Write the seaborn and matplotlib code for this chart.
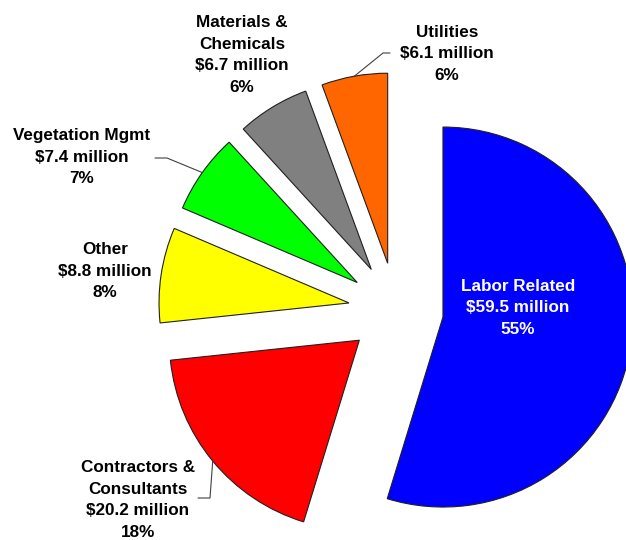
import numpy as np
import matplotlib
matplotlib.use("Agg")
import matplotlib.pyplot as plt
import seaborn as sns

# Expense categories, clockwise from 12 o'clock
categories = ["Labor Related", "Contractors &\nConsultants", "Other",
              "Vegetation Mgmt", "Materials &\nChemicals", "Utilities"]
amounts = [59.5, 20.2, 8.8, 7.4, 6.7, 6.1]          # $ million
percents = [55, 18, 8, 7, 6, 6]
colors = ["#0000FF", "#FF0000", "#FFFF00", "#00FF00", "#808080", "#FF6600"]

sns.set_theme(style="white")
plt.rcParams["font.family"] = ["Liberation Sans", "DejaVu Sans"]

W, H = 626, 540
fig = plt.figure(figsize=(W / 100, H / 100), dpi=100)
fig.patch.set_facecolor("white")
ax = fig.add_axes([0, 0, 1, 1])

center = (396, 230)
radius = 190
# every slice pulled out by a quarter of the radius
explode = [0.25 * radius] * len(amounts)
wedges, _ = ax.pie(amounts, colors=colors, startangle=90, counterclock=False,
                   explode=explode, radius=radius, center=center,
                   wedgeprops=dict(edgecolor="#202020", linewidth=0.8))
ax.set_xlim(0, W)
ax.set_ylim(0, H)
ax.set_aspect("equal")
ax.axis("off")

# label anchor positions (x, y) in axes pixel units
label_pos = [(518, 232), (138, 40), (105, 269), (82, 383), (242, 485), (447, 486)]
label_color = ["white", "black", "black", "black", "black", "black"]
for cat, amt, pct, (x, y), c in zip(categories, amounts, percents, label_pos, label_color):
    ax.text(x, y, f"{cat}\n${amt} million\n{pct}%", ha="center", va="center",
            multialignment="center", fontsize=12.3, fontweight="bold", color=c,
            linespacing=1.55)

# leader lines: from the arc midpoint of a wedge to an elbow, then across
leaders = {5: [(383, 487), (390, 487)],
           3: [(167, 382), (155, 382)],
           1: [(210, 42), (198, 42)]}
for idx, pts in leaders.items():
    w = wedges[idx]
    mid = np.deg2rad((w.theta1 + w.theta2) / 2)
    cx, cy = w.center
    start = (cx + w.r * np.cos(mid), cy + w.r * np.sin(mid))
    xs = [start[0]] + [p[0] for p in pts]
    ys = [start[1]] + [p[1] for p in pts]
    ax.plot(xs, ys, color="#404040", linewidth=0.8)

fig.savefig("out.png", dpi=100, facecolor="white")
